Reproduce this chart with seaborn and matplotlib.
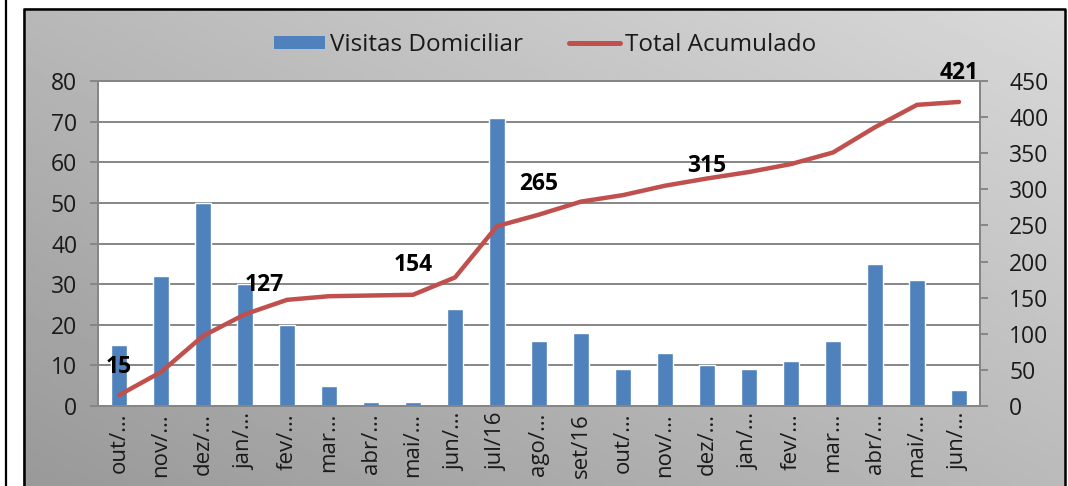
import numpy as np
import matplotlib
matplotlib.use('Agg')
import matplotlib.pyplot as plt
from matplotlib.patches import Patch
from matplotlib.lines import Line2D
import seaborn as sns

# Data
meses = ['out/15', 'nov/15', 'dez/15', 'jan/16', 'fev/16', 'mar/16', 'abr/16',
         'mai/16', 'jun/16', 'jul/16', 'ago/16', 'set/16', 'out/16', 'nov/16',
         'dez/16', 'jan/17', 'fev/17', 'mar/17', 'abr/17', 'mai/17', 'jun/17']
rotulos = ['out/…', 'nov/…', 'dez/…', 'jan/…', 'fev/…', 'mar…', 'abr/…',
           'mai/…', 'jun/…', 'jul/16', 'ago/…', 'set/16', 'out/…', 'nov/…',
           'dez/…', 'jan/…', 'fev/…', 'mar…', 'abr/…', 'mai/…', 'jun/…']
visitas = [15, 32, 50, 30, 20, 5, 1, 1, 24, 71, 16, 18, 9, 13, 10, 9, 11, 16, 35, 31, 4]
acumulado = np.cumsum(visitas)
# which cumulative points get a label, and label offset (px)
rotulo_idx = [0, 3, 7, 10, 14, 20]
rotulo_off = [(0, 28), (19, 29), (0, 30), (0, 31), (0, 13), (0, 29)]

azul = '#4f81bd'
vermelho = '#c0504d'
cinza = '#868686'
texto = '#1a1a1a'

sns.set_style('white')
plt.rcParams['font.family'] = ['Open Sans', 'DejaVu Sans']

W, H = 1068, 486
fig = plt.figure(figsize=(W / 100, H / 100), dpi=100)
fig.patch.set_facecolor('white')

# gray gradient panel
bg = fig.add_axes([23 / W, 0, (1066 - 23) / W, (486 - 8) / H], zorder=-10)
gx, gy = np.meshgrid(np.linspace(0, 1, 200), np.linspace(1, 0, 200))
grad = (153 + 33 * gx + 31 * gy) / 255
bg.imshow(grad, cmap='gray', vmin=0, vmax=1, extent=[0, 1, 0, 1], aspect='auto')
bg.set_xlim(0, 1)
bg.set_ylim(0, 1)
bg.axis('off')
bg.plot([0.001, 0.001, 0.999, 0.999], [0, 0.997, 0.997, 0], color='black', lw=1.8, clip_on=False)
fig.add_artist(Line2D([6 / W, 6 / W], [0, 1], color='black', lw=1.6, transform=fig.transFigure))

# main axes
ax = fig.add_axes([98 / W, 1 - 406 / H, (980 - 98) / W, (406 - 81) / H])
ax.set_facecolor('white')
sns.barplot(x=meses, y=visitas, color=azul, width=0.4, saturation=1, ax=ax, zorder=2)
ax.set_ylim(0, 80)
ax.set_xlim(-0.5, len(meses) - 0.5)
ax.set_yticks(range(0, 81, 10))
ax.yaxis.grid(True, color=cinza, lw=1.4, zorder=0)
ax.set_axisbelow(True)
ax.set_xlabel('')
ax.set_ylabel('')
ax.set_xticks(np.arange(len(meses)))
ax.set_xticklabels(rotulos, rotation=90, fontsize=16, color=texto)
ax.set_xticks(np.arange(len(meses) + 1) - 0.5, minor=True)
ax.tick_params(axis='x', which='major', length=0, pad=5)
ax.tick_params(axis='x', which='minor', length=6, width=1.4, color=cinza)
ax.tick_params(axis='y', length=6, width=1.4, color=cinza, labelsize=16.5, labelcolor=texto, pad=9, left=True)
for s in ax.spines.values():
    s.set_color(cinza)
    s.set_linewidth(1.4)

# cumulative line on secondary axis
ax2 = ax.twinx()
sns.lineplot(x=np.arange(len(meses)), y=acumulado, color=vermelho, lw=3.2, ax=ax2,
             solid_capstyle='round', solid_joinstyle='round', zorder=3)
ax2.set_ylim(0, 450)
ax2.set_yticks(range(0, 451, 50))
ax2.set_ylabel('')
ax2.tick_params(axis='y', length=6, width=1.4, color=cinza, labelsize=16.5, labelcolor=texto, pad=15, right=True)
for s in ax2.spines.values():
    s.set_color(cinza)
    s.set_linewidth(1.4)

for i, (dx, dy) in zip(rotulo_idx, rotulo_off):
    ax2.annotate(str(acumulado[i]), (i, acumulado[i]), xytext=(dx * 0.72, dy * 0.72),
                 textcoords='offset points', ha='center', va='center',
                 fontsize=16.5, fontweight='bold', color='black', zorder=5)

# legend
handles = [Patch(facecolor=azul, edgecolor='none', label='Visitas Domiciliar'),
           Line2D([0], [0], color=vermelho, lw=3.6, label='Total Acumulado')]
fig.legend(handles=handles, loc='center', bbox_to_anchor=(545 / W, 1 - 45 / H), ncol=2,
           frameon=False, fontsize=17.5, handlelength=2.1, handleheight=0.45,
           handletextpad=0.2, columnspacing=1.9, labelcolor=texto)

fig.savefig('out.png', dpi=100)
